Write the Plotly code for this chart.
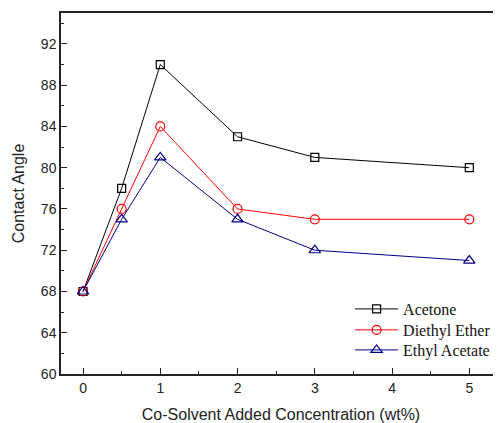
import plotly.graph_objects as go

x_vals = [0, 0.5, 1, 2, 3, 5]
acetone = [68, 78, 90, 83, 81, 80]
diethyl_ether = [68, 76, 84, 76, 75, 75]
ethyl_acetate = [68, 75, 81, 75, 72, 71]
series_names = ["Acetone", "Diethyl Ether", "Ethyl Acetate"]
x_ticks = [0, 1, 2, 3, 4, 5]
y_ticks = [60, 64, 68, 72, 76, 80, 84, 88, 92]

fig = go.Figure()
specs = [
    (acetone, series_names[0], "black", "square-open", 8, "legend"),
    (diethyl_ether, series_names[1], "red", "circle-open", 9, "legend2"),
    (ethyl_acetate, series_names[2], "#00008B", "triangle-up-open", 10, "legend3"),
]
for ys, name, col, sym, sz, lg in specs:
    fig.add_trace(go.Scatter(
        x=x_vals, y=ys, name=name, mode="lines+markers", legend=lg, showlegend=True,
        line=dict(color=col, width=1),
        marker=dict(symbol=sym, size=sz, color=col, line=dict(color=col, width=1.2)),
    ))

axis_common = dict(
    showgrid=False, zeroline=False, showline=True, linecolor="#222", linewidth=1.5,
    ticks="inside", ticklen=6, tickwidth=1, tickcolor="#222", automargin=False,
    tickfont=dict(family="Liberation Sans, Arial", size=14, color="#222"),
)
fig.update_xaxes(
    **axis_common, range=[-0.285, 5.41], tickvals=x_ticks, mirror=True,
    minor=dict(dtick=0.5, ticks="inside", ticklen=3, tickcolor="#222", tick0=0),
    title=dict(text="Co-Solvent Added Concentration (wt%)",
               font=dict(family="Liberation Sans, Arial", size=16, color="#222"), standoff=15),
)
fig.update_yaxes(
    **axis_common, range=[60, 95], tickvals=y_ticks, mirror=False,
    minor=dict(dtick=2, ticks="inside", ticklen=3, tickcolor="#222", tick0=60),
    title=dict(text="Contact Angle",
               font=dict(family="Liberation Sans, Arial", size=16, color="#222"), standoff=12),
)

leg_font = dict(family="Liberation Serif, Times New Roman", size=16, color="#111")
def leg(yv):
    return dict(x=0.657, y=yv, xanchor="left", yanchor="middle", font=leg_font,
                bgcolor="rgba(0,0,0,0)", itemwidth=43, visible=True)

# page has an 8px body margin; figure is offset by (8, 8)
fig.update_layout(
    width=493, height=415, showlegend=True,
    margin=dict(l=53, r=0, t=5, b=49),
    paper_bgcolor="white", plot_bgcolor="white",
    legend=leg(0.180), legend2=leg(0.122), legend3=leg(0.0665),
)
fig.write_html("out.html")
